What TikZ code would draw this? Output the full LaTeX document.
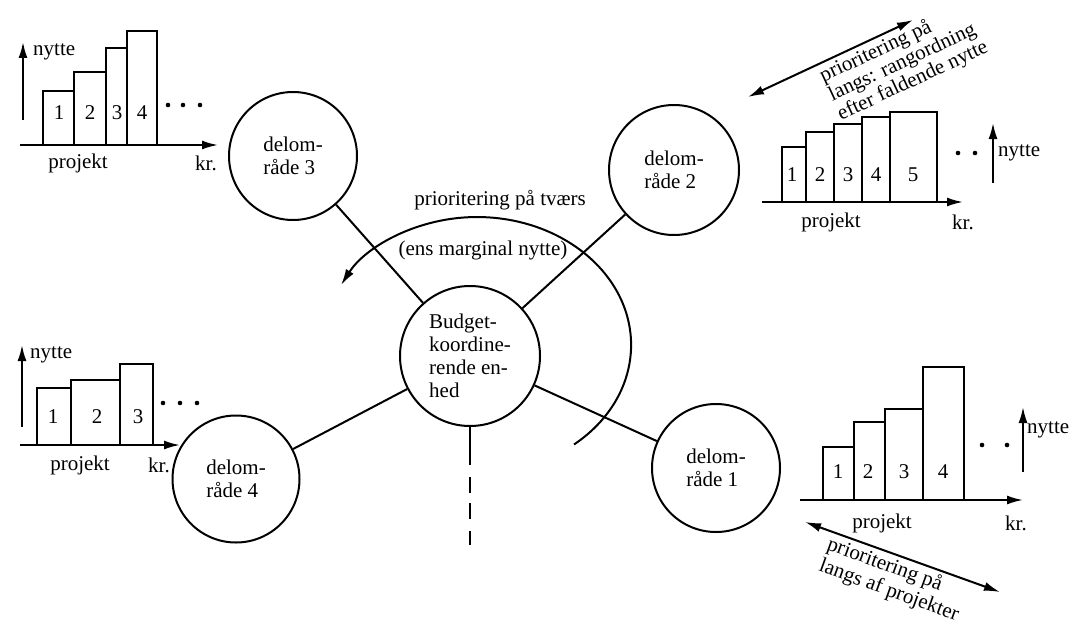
\documentclass[tikz,border=0pt]{standalone}
\usepackage{fontspec}
\setmainfont{Liberation Serif}
\usetikzlibrary{arrows.meta}
\begin{document}
\begin{tikzpicture}[x=1pt,y=-1pt,
  every node/.style={font=\fontsize{21}{23}\selectfont, inner sep=0pt},
  ln/.style={line width=2pt},
  arr/.style={ln,-{Latex[length=16pt,width=9pt]}},
  darr/.style={ln,{Latex[length=16pt,width=9pt]}-{Latex[length=16pt,width=9pt]}},
  area/.style={circle,draw,line width=2pt,align=left},
  bar/.style={line width=1.8pt}
]
\useasboundingbox (0,0) rectangle (1073,626);

% ---------- circles ----------
\node[area,minimum size=140pt] (cen) at (470,356) {Budget-\\koordine-\\rende en-\\hed};
\node[area,minimum size=128pt] (d3) at (293,156) {delom-\\råde 3};
\node[area,minimum size=130pt] (d2) at (674,170) {delom-\\råde 2};
\node[area,minimum size=127pt] (d4) at (236,479) {delom-\\råde 4};
\node[area,minimum size=128pt] (d1) at (716,468) {delom-\\råde 1};

\draw[ln] (d3) -- (cen);
\draw[ln] (d2) -- (cen);
\draw[ln] (d4) -- (cen);
\draw[ln] (d1) -- (cen);
\coordinate (dn) at (470,548);
\draw[ln,dash pattern=on 38pt off 12pt on 16pt off 10pt on 16pt off 12pt on 14pt off 30pt] (cen.south) -- (dn);

% ---------- big arc ----------
\draw[arr] (574,444.5) arc[start angle=-51, end angle=152, x radius=154pt, y radius=128pt];
\node (tv) at (500,200) {prioritering på tværs};
\node (em) at (483,250) {(ens marginal nytte)};

% ---------- chart 3 (top left) ----------
\draw[arr] (20,145) -- (218,145);
\draw[arr] (23,120) -- (23,42);
\draw[bar] (43,145) rectangle (74,91);
\draw[bar] (74,145) rectangle (106,72);
\draw[bar] (106,145) rectangle (127,48);
\draw[bar] (127,145) rectangle (157,31);
\node (a1) at (59,113) {1};
\node (a2) at (90,113) {2};
\node (a3) at (117,113) {3};
\node (a4) at (142,113) {4};
\fill (168,105) circle (2.3pt) (183,105) circle (2.3pt) (200,105) circle (2.3pt);
\node[anchor=west] (an) at (33,52) {nytte};
\node (ap) at (78,163) {projekt};
\node (ak) at (206,163) {kr.};

% ---------- chart 2 (top right) ----------
\draw[arr] (762,202) -- (963,202);
\draw[arr] (993,183) -- (993,123);
\draw[bar] (782,202) rectangle (806,147);
\draw[bar] (806,202) rectangle (834,132);
\draw[bar] (834,202) rectangle (862,124);
\draw[bar] (862,202) rectangle (890,117);
\draw[bar] (890,202) rectangle (937,112);
\node (b1) at (792,175) {1};
\node (b2) at (820,175) {2};
\node (b3) at (848,175) {3};
\node (b4) at (876,175) {4};
\node (b5) at (913,175) {5};
\fill (958,153) circle (2.3pt) (975,153) circle (2.3pt);
\node[anchor=west] (bn) at (998,153) {nytte};
\node (bp) at (831,222) {projekt};
\node (bk) at (963,222) {kr.};
\coordinate (bl) at (748,97);
\coordinate (br) at (913,20);
\draw[darr] (bl) -- (br);
\node[rotate=25,align=left,font=\fontsize{21}{21}\selectfont] (bt) at (904,62) {prioritering på\\langs: rangordning\\efter faldende nytte};

% ---------- chart 4 (bottom left) ----------
\draw[arr] (20,445) -- (180,445);
\draw[arr] (22,427) -- (22,345);
\draw[bar] (37,445) rectangle (71,388);
\draw[bar] (71,445) rectangle (120,380);
\draw[bar] (120,445) rectangle (153,364);
\node (c1) at (53,417) {1};
\node (c2) at (97,417) {2};
\node (c3) at (138,417) {3};
\fill (163,403) circle (2.3pt) (180,403) circle (2.3pt) (197,403) circle (2.3pt);
\node[anchor=west] (cn) at (30,355) {nytte};
\node (cp) at (80,465) {projekt};
\node (ck) at (159,465) {kr.};

% ---------- chart 1 (bottom right) ----------
\draw[arr] (800,500) -- (1023,500);
\draw[arr] (1023,472) -- (1023,407);
\draw[bar] (823,500) rectangle (854,447);
\draw[bar] (854,500) rectangle (885,422);
\draw[bar] (885,500) rectangle (923,409);
\draw[bar] (923,500) rectangle (964,367);
\node (e1) at (838,472) {1};
\node (e2) at (868,472) {2};
\node (e3) at (904,472) {3};
\node (e4) at (943,472) {4};
\fill (982,445) circle (2.3pt) (1007,445) circle (2.3pt);
\node[anchor=west] (en) at (1027,430) {nytte};
\node (ep) at (882,523) {projekt};
\node (ek) at (1016,523) {kr.};
\coordinate (el) at (805,522);
\coordinate (er) at (1000,592);
\draw[darr] (el) -- (er);
\node[rotate=-20,align=left] (et) at (893,580) {prioritering på\\langs af projekter};
\end{tikzpicture}
\end{document}
